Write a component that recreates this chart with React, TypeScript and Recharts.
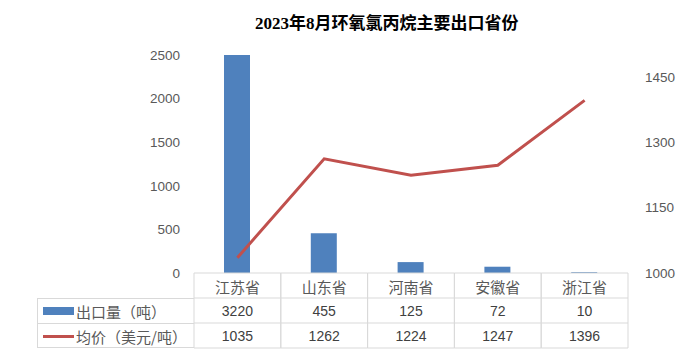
import { ComposedChart, Bar, Line, XAxis, YAxis } from 'recharts';

const provinces = ['江苏省', '山东省', '河南省', '安徽省', '浙江省'];
const exportVolume = [3220, 455, 125, 72, 10];
const avgPrice = [1035, 1262, 1224, 1247, 1396];
const volumeTicks = [0, 500, 1000, 1500, 2000, 2500];
const priceTicks = [1000, 1150, 1300, 1450];

const data = provinces.map((p, i) => ({ province: p, volume: exportVolume[i], price: avgPrice[i] }));

const gridColor = '#d9d9d9';
const colWidth = 86.8;
const rowH = 25;

// each x tick draws its own column of the data table
function TableTick(props: any) {
  const { x, y, payload, index } = props;
  const l = x - colWidth / 2;
  const r = x + colWidth / 2;
  return (
    <g>
      {[0, 1, 2, 3].map(k => (
        <line key={'h' + k} x1={l} x2={r} y1={y + k * rowH} y2={y + k * rowH} stroke={gridColor} />
      ))}
      <line x1={l} x2={l} y1={y} y2={y + 3 * rowH} stroke={gridColor} />
      <line x1={r} x2={r} y1={y} y2={y + 3 * rowH} stroke={gridColor} />
      <text x={x} y={y + rowH / 2 + 1} textAnchor="middle" dominantBaseline="central" fontSize={15} fill="#595959" fontFamily="'Noto Sans CJK SC'">
        {payload.value}
      </text>
      <text x={x} y={y + rowH * 1.5} textAnchor="middle" dominantBaseline="central" fontSize={14} fill="#404040" fontFamily="'Liberation Sans'">
        {exportVolume[index]}
      </text>
      <text x={x} y={y + rowH * 2.5} textAnchor="middle" dominantBaseline="central" fontSize={14} fill="#404040" fontFamily="'Liberation Sans'">
        {avgPrice[index]}
      </text>
    </g>
  );
}

export default function App() {
  const axisTick = { fill: '#595959', fontSize: 13.5, fontFamily: "'Liberation Sans'" };
  return (
    <div style={{ position: 'absolute', left: 0, top: 0, width: 698, height: 362, background: '#fff' }}>
      <div style={{ position: 'absolute', left: 255, top: 9, fontSize: 17, fontWeight: 'bold', color: '#000', fontFamily: "'Liberation Serif', 'Noto Sans CJK SC'", whiteSpace: 'nowrap' }}>
        2023年8月环氧氯丙烷主要出口省份
      </div>
      <ComposedChart width={698} height={362} data={data} margin={{ top: 55, right: 0, bottom: 14, left: 0 }}>
        <XAxis dataKey="province" height={75} tickSize={0} tickMargin={0} tickLine={false} axisLine={false} tick={<TableTick />} interval={0} />
        <YAxis yAxisId="left" width={194} domain={[0, 2500]} ticks={volumeTicks} allowDataOverflow tickLine={false} axisLine={false} tickSize={6} tickMargin={8} tick={axisTick} />
        <YAxis yAxisId="right" orientation="right" width={70} domain={[1000, 1500]} ticks={priceTicks} allowDataOverflow tickLine={false} axisLine={false} tickSize={6} tickMargin={11} tick={axisTick} />
        <Bar yAxisId="left" dataKey="volume" fill="#4f81bd" barSize={26} isAnimationActive={false} />
        <Line yAxisId="right" dataKey="price" type="linear" stroke="#c0504d" strokeWidth={3} dot={false} isAnimationActive={false} />
      </ComposedChart>
      <div style={{ position: 'absolute', left: 37, top: 298, width: 157, height: 50, boxSizing: 'border-box', border: `1px solid ${gridColor}`, borderRight: 'none', fontFamily: "'Noto Sans CJK SC'", fontSize: 15, color: '#595959' }}>
        <div style={{ height: 25, boxSizing: 'border-box', borderBottom: `1px solid ${gridColor}`, display: 'flex', alignItems: 'center' }}>
          <span style={{ display: 'inline-block', width: 31, height: 8, background: '#4f81bd', marginLeft: 5, marginRight: 2 }} />
          出口量（吨）
        </div>
        <div style={{ height: 24, display: 'flex', alignItems: 'center' }}>
          <span style={{ display: 'inline-block', width: 31, height: 3, background: '#c0504d', marginLeft: 5, marginRight: 2 }} />
          均价（美元/吨）
        </div>
      </div>
    </div>
  );
}
